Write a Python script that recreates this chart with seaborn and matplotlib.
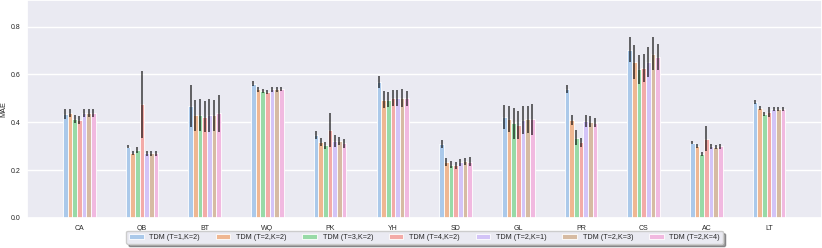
import numpy as np
import pandas as pd
import matplotlib
matplotlib.use("Agg")
import matplotlib.pyplot as plt
import seaborn as sns

datasets = ["CA", "QB", "BT", "WQ", "PK", "YH", "SD", "GL", "PR", "CS", "AC", "LT"]
models = ["TDM (T=1,K=2)", "TDM (T=2,K=2)", "TDM (T=3,K=2)", "TDM (T=4,K=2)",
          "TDM (T=2,K=1)", "TDM (T=2,K=3)", "TDM (T=2,K=4)"]

# mean MAE per dataset, one list per model
mae_t1k2 = [0.435, 0.298, 0.468, 0.562, 0.347, 0.569, 0.309, 0.422, 0.538, 0.704, 0.314, 0.484]
mae_t2k2 = [0.439, 0.271, 0.430, 0.537, 0.317, 0.495, 0.234, 0.414, 0.410, 0.652, 0.302, 0.458]
mae_t3k2 = [0.414, 0.284, 0.430, 0.530, 0.303, 0.495, 0.223, 0.396, 0.336, 0.621, 0.269, 0.436]
mae_t4k2 = [0.410, 0.475, 0.424, 0.527, 0.368, 0.500, 0.220, 0.389, 0.316, 0.627, 0.331, 0.444]
mae_t2k1 = [0.440, 0.270, 0.430, 0.537, 0.321, 0.500, 0.233, 0.410, 0.405, 0.652, 0.299, 0.455]
mae_t2k3 = [0.437, 0.270, 0.430, 0.537, 0.321, 0.500, 0.237, 0.412, 0.403, 0.687, 0.298, 0.454]
mae_t2k4 = [0.437, 0.270, 0.437, 0.538, 0.313, 0.500, 0.235, 0.412, 0.399, 0.673, 0.299, 0.454]

# half-length of error bars
err_t1k2 = [0.020, 0.007, 0.086, 0.010, 0.016, 0.026, 0.017, 0.051, 0.017, 0.053, 0.006, 0.008]
err_t2k2 = [0.016, 0.007, 0.065, 0.009, 0.017, 0.037, 0.018, 0.053, 0.022, 0.070, 0.008, 0.008]
err_t3k2 = [0.016, 0.012, 0.066, 0.008, 0.015, 0.030, 0.014, 0.064, 0.033, 0.062, 0.008, 0.008]
err_t4k2 = [0.016, 0.140, 0.064, 0.008, 0.072, 0.033, 0.014, 0.060, 0.018, 0.057, 0.052, 0.020]
err_t2k1 = [0.017, 0.010, 0.069, 0.011, 0.025, 0.033, 0.015, 0.059, 0.026, 0.063, 0.009, 0.008]
err_t2k3 = [0.017, 0.010, 0.065, 0.009, 0.018, 0.038, 0.014, 0.056, 0.024, 0.068, 0.008, 0.008]
err_t2k4 = [0.017, 0.010, 0.076, 0.008, 0.019, 0.032, 0.018, 0.066, 0.017, 0.053, 0.010, 0.008]

means = [mae_t1k2, mae_t2k2, mae_t3k2, mae_t4k2, mae_t2k1, mae_t2k3, mae_t2k4]
errs = [err_t1k2, err_t2k2, err_t3k2, err_t4k2, err_t2k1, err_t2k3, err_t2k4]

rows = []
for m, vals, es in zip(models, means, errs):
    for d, v, e in zip(datasets, vals, es):
        rows.append({"dataset": d, "model": m, "MAE": v, "err": e})
df = pd.DataFrame(rows)

sns.set_theme(style="darkgrid")
plt.rcParams["font.family"] = ["Liberation Sans", "DejaVu Sans"]

fig = plt.figure(figsize=(8.22, 2.48), dpi=100)
ax = fig.add_axes([27 / 822, 30 / 248, 795 / 822, 218 / 248])

sns.barplot(data=df, x="dataset", y="MAE", hue="model", palette="pastel",
            errorbar=None, width=0.52, edgecolor="white", linewidth=0.6, ax=ax)

# error bars at each bar's centre
for cont, m in zip(ax.containers, models):
    sub = df[df["model"] == m]
    xs = [p.get_x() + p.get_width() / 2 for p in cont.patches]
    ax.errorbar(xs, sub["MAE"].values, yerr=sub["err"].values, fmt="none",
                ecolor="black", alpha=0.75, elinewidth=1.1, capsize=0, zorder=5)

ax.set_xlim(-0.835, 11.845)
ax.set_ylim(0, 0.911)
ax.set_yticks([0.0, 0.2, 0.4, 0.6, 0.8])
ax.set_xlabel("")
ax.set_ylabel("MAE", fontsize=5.2, labelpad=2.5)
ax.tick_params(axis="both", labelsize=5.0, pad=4.8, length=0)

handles, labels = ax.get_legend_handles_labels()
ax.legend(handles, labels, loc="upper center", bbox_to_anchor=(0.5, -13 / 218),
          ncol=7, fontsize=5.2, frameon=True, shadow=True, handlelength=2.0, handleheight=0.7,
          handletextpad=0.8, columnspacing=2.2, borderpad=0.4, borderaxespad=0)

fig.savefig("out.png", dpi=100)
